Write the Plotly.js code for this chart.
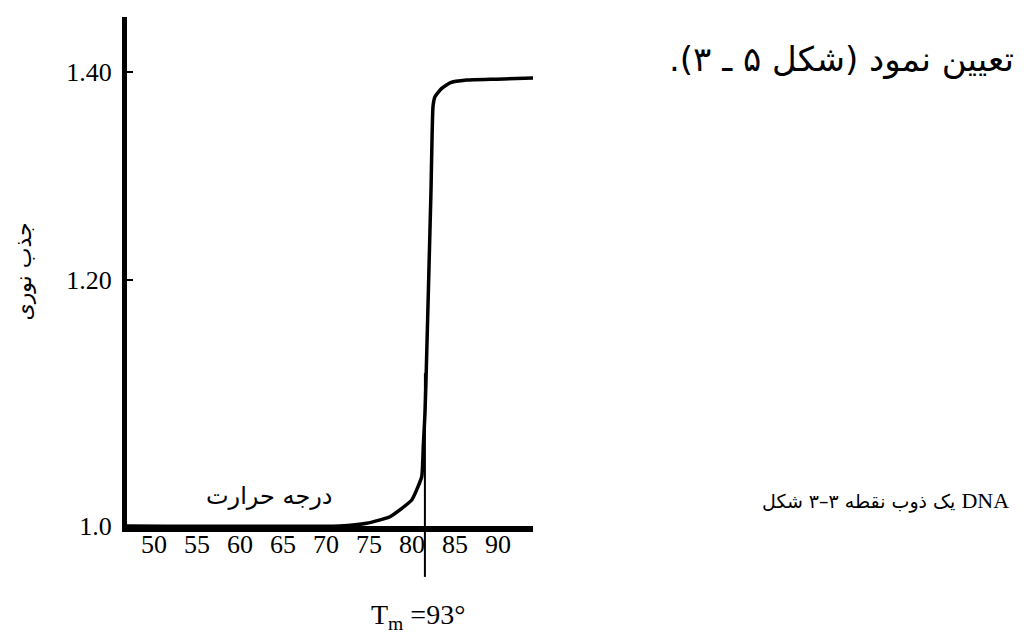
<!DOCTYPE html>
<html>
<head>
<meta charset="utf-8">
<script src="https://cdn.plot.ly/plotly-3.0.1.min.js"></script>
<style>
  html, body { margin: 0; padding: 0; background: #ffffff; }
  #chart { width: 1031px; height: 633px; }
</style>
</head>
<body>
<div id="chart"></div>
<script>
// ---- data ----
const temperature = [46.86, 71.6, 74.73, 77.44, 79.97, 81.13, 81.31, 81.51, 81.63, 82.21, 82.44, 82.67, 83.45, 84.42, 86.36, 89.85, 94.07];
const absorbance  = [1.0, 1.0, 1.002, 1.0069, 1.0195, 1.0372, 1.0606, 1.0874, 1.1144, 1.283, 1.3646, 1.3747, 1.3833, 1.389, 1.3918, 1.3928, 1.3941];

const xTickValues = [50, 55, 60, 65, 70, 75, 80, 85, 90];
const xTickLabels = ['50', '55', '60', '65', '70', '75', '80', '85', '90'];
const yTickValues = [1.0, 1.2, 1.4];
const yTickLabels = ['1.0', '1.20', '1.40'];

const meltingTemp = 81.5;     // position of the Tm marker line
const tmLineTop = 1.12;       // where the marker line merges into the curve

const yAxisTitle = 'جذب نوری';
const xAxisLabel = 'درجه حرارت';
const headingText = 'تعیین نمود (شکل ۵ ـ ۳).';
const captionWords = ['شکل', '۳–۳', 'نقطه', 'ذوب', 'یک'];
const captionLatin = 'DNA';
const tmLabel = 'T<sub>m</sub> =93°';

const serif = 'Liberation Serif, Times New Roman, serif';
const persian = 'DejaVu Sans, Noto Sans, sans-serif';

const LRM = '\u200E', LRE = '\u202A', RLE = '\u202B', PDF = '\u202C';

const trace = {
  x: temperature,
  y: absorbance,
  type: 'scatter',
  mode: 'lines',
  line: { color: '#000000', width: 3.5, shape: 'spline', smoothing: 0.4 },
  hoverinfo: 'skip'
};

const captionText = LRE + captionWords.join(LRM + ' ') + LRM + ' ' +
  '<span style="font-family:Liberation Serif;font-size:22px">' + captionLatin + '</span>' + PDF;

const layout = {
  width: 1031,
  height: 633,
  margin: { l: 127, r: 498, t: 17, b: 107 },
  paper_bgcolor: '#ffffff',
  plot_bgcolor: '#ffffff',
  showlegend: false,
  hovermode: false,
  xaxis: {
    range: [46.86, 94.07],
    showline: true, linecolor: '#000000', linewidth: 6,
    showgrid: false, zeroline: false,
    ticks: '',
    tickmode: 'array', tickvals: xTickValues, ticktext: xTickLabels,
    tickfont: { family: serif, size: 26, color: '#000000' },
    ticklabelstandoff: -10
  },
  yaxis: {
    type: 'log',
    range: [0, 0.1639],
    showline: true, linecolor: '#000000', linewidth: 5,
    showgrid: false, zeroline: false,
    ticks: 'inside', ticklen: 6, tickwidth: 2, tickcolor: '#000000',
    tickmode: 'array', tickvals: yTickValues, ticktext: yTickLabels,
    tickfont: { family: serif, size: 26, color: '#000000' },
    ticklabelstandoff: 5,
    title: { text: yAxisTitle, font: { family: persian, size: 22, color: '#000000' }, standoff: 30 }
  },
  shapes: [
    { type: 'line', xref: 'x', yref: 'y', x0: meltingTemp, x1: meltingTemp, y0: 1.0, y1: tmLineTop,
      line: { color: '#000000', width: 2 }, layer: 'above' },
    { type: 'line', xref: 'x', yref: 'paper', x0: meltingTemp, x1: meltingTemp, y0: 0, y1: -0.1,
      line: { color: '#000000', width: 2 }, layer: 'above' }
  ],
  annotations: [
    { text: xAxisLabel, xref: 'paper', yref: 'paper', x: 0.352, y: 0.059,
      xanchor: 'center', yanchor: 'middle', showarrow: false,
      font: { family: persian, size: 24, color: '#000000' } },
    { text: RLE + headingText + PDF, xref: 'paper', yref: 'paper', x: 2.19, y: 0.917,
      xanchor: 'right', yanchor: 'middle', showarrow: false,
      font: { family: persian, size: 34, color: '#000000' } },
    { text: captionText,
      xref: 'paper', yref: 'paper', x: 1.559, y: 0.051,
      xanchor: 'left', yanchor: 'middle', showarrow: false,
      font: { family: persian, size: 19, color: '#000000' } },
    { text: tmLabel, xref: 'paper', yref: 'paper', x: 0.717, y: -0.178,
      xanchor: 'center', yanchor: 'middle', showarrow: false,
      font: { family: serif, size: 28, color: '#000000' } }
  ]
};

Plotly.newPlot('chart', [trace], layout, { staticPlot: true, displayModeBar: false });
</script>
</body>
</html>
